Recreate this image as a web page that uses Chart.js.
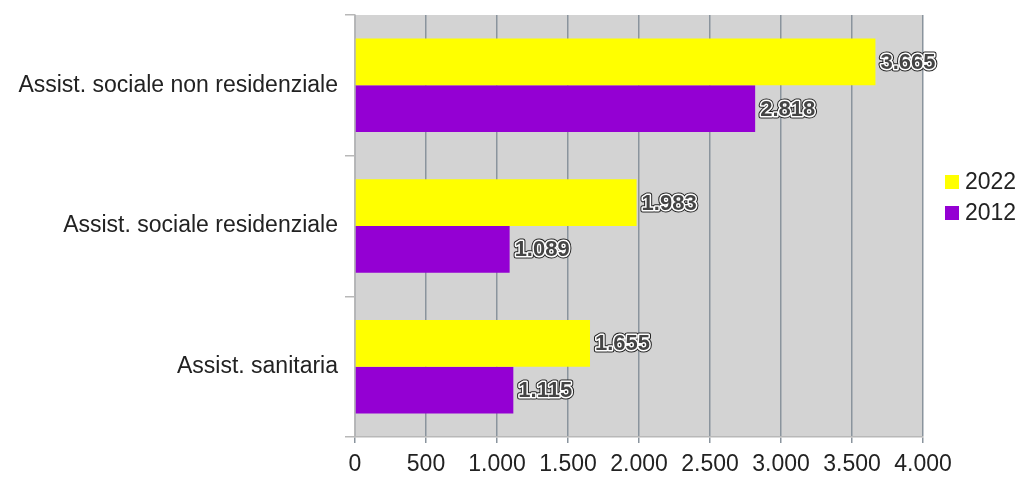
<!DOCTYPE html>
<html>
<head>
<meta charset="utf-8">
<script src="https://cdn.jsdelivr.net/npm/chart.js@4"></script>
<style>
  html, body { margin: 0; padding: 0; background: #fff; }
  #wrap { width: 1017px; height: 477px; }
</style>
</head>
<body>
<div id="wrap"><canvas id="chart"></canvas></div>
<script>
const categories = ['Assist. sociale non residenziale', 'Assist. sociale residenziale', 'Assist. sanitaria'];
const seriesNames = ['2022', '2012'];
const values2022 = [3665, 1983, 1655];
const values2012 = [2818, 1089, 1115];
const xTicks = [0, 500, 1000, 1500, 2000, 2500, 3000, 3500, 4000];

const FONT = "'Liberation Sans', Arial, sans-serif";

function fmt(n) {
    return String(n).replace(/\B(?=(\d{3})+(?!\d))/g, '.');
}

const plotBg = {
    id: 'plotBg',
    beforeDraw(chart) {
        const { ctx, chartArea: a } = chart;
        ctx.save();
        ctx.fillStyle = '#d3d3d3';
        ctx.fillRect(a.left, a.top, a.right - a.left, a.bottom - a.top);
        ctx.restore();
    }
};

const valueLabels = {
    id: 'valueLabels',
    afterDatasetsDraw(chart) {
        const ctx = chart.ctx;
        ctx.save();
        ctx.font = 'bold 22px ' + FONT;
        ctx.textBaseline = 'middle';
        ctx.textAlign = 'left';
        ctx.lineJoin = 'round';
        chart.data.datasets.forEach((ds, i) => {
            chart.getDatasetMeta(i).data.forEach((bar, j) => {
                const txt = fmt(ds.data[j]);
                const x = bar.x + 5, y = bar.y + 1;
                ctx.strokeStyle = '#222';
                ctx.lineWidth = 5;
                ctx.strokeText(txt, x, y);
                ctx.strokeStyle = '#fff';
                ctx.lineWidth = 3;
                ctx.strokeText(txt, x, y);
                ctx.fillStyle = '#444';
                ctx.fillText(txt, x, y);
            });
        });
        ctx.restore();
    }
};

const sideLegend = {
    id: 'sideLegend',
    afterDraw(chart) {
        const ctx = chart.ctx;
        const x = chart.chartArea.right + 22;
        let y = 182;
        ctx.save();
        ctx.font = '23px ' + FONT;
        ctx.textBaseline = 'middle';
        chart.data.datasets.forEach(ds => {
            ctx.fillStyle = ds.backgroundColor;
            ctx.fillRect(x, y - 7, 14, 14);
            ctx.fillStyle = '#222';
            ctx.fillText(ds.label, x + 20, y + 1);
            y += 31;
        });
        ctx.restore();
    }
};

new Chart(document.getElementById('chart'), {
    type: 'bar',
    data: {
        labels: categories,
        datasets: [
            { label: seriesNames[0], data: values2022, backgroundColor: '#ffff00' },
            { label: seriesNames[1], data: values2012, backgroundColor: '#9400d3' }
        ]
    },
    options: {
        indexAxis: 'y',
        responsive: true,
        maintainAspectRatio: false,
        animation: false,
        devicePixelRatio: 1,
        layout: { padding: { top: 15, right: 94, left: 0, bottom: 0 } },
        datasets: { bar: { categoryPercentage: 0.665, barPercentage: 1 } },
        plugins: { legend: { display: false }, tooltip: { enabled: false } },
        scales: {
            x: {
                min: 0, max: 4000,
                afterBuildTicks(scale) { scale.ticks = xTicks.map(v => ({ value: v })); },
                afterFit(scale) { scale.height = 40; scale.paddingLeft = 0; scale.paddingRight = 0; },
                grid: { color: '#8a949d', lineWidth: 1.5, tickLength: 6, drawTicks: true },
                border: { color: '#b8b8b8', width: 1.5 },
                ticks: {
                    color: '#222', padding: 8,
                    font: { family: FONT, size: 23 },
                    callback: v => fmt(v)
                }
            },
            y: {
                afterFit(scale) { scale.width = 355; scale.paddingTop = 0; scale.paddingBottom = 0; },
                grid: { offset: true, drawOnChartArea: false, drawTicks: true, tickLength: 10, color: '#b8b8b8', lineWidth: 1.5 },
                border: { color: '#b8b8b8', width: 1.5 },
                ticks: {
                    color: '#222', padding: 7,
                    font: { family: FONT, size: 23 }
                }
            }
        }
    },
    plugins: [plotBg, valueLabels, sideLegend]
});
</script>
</body>
</html>
